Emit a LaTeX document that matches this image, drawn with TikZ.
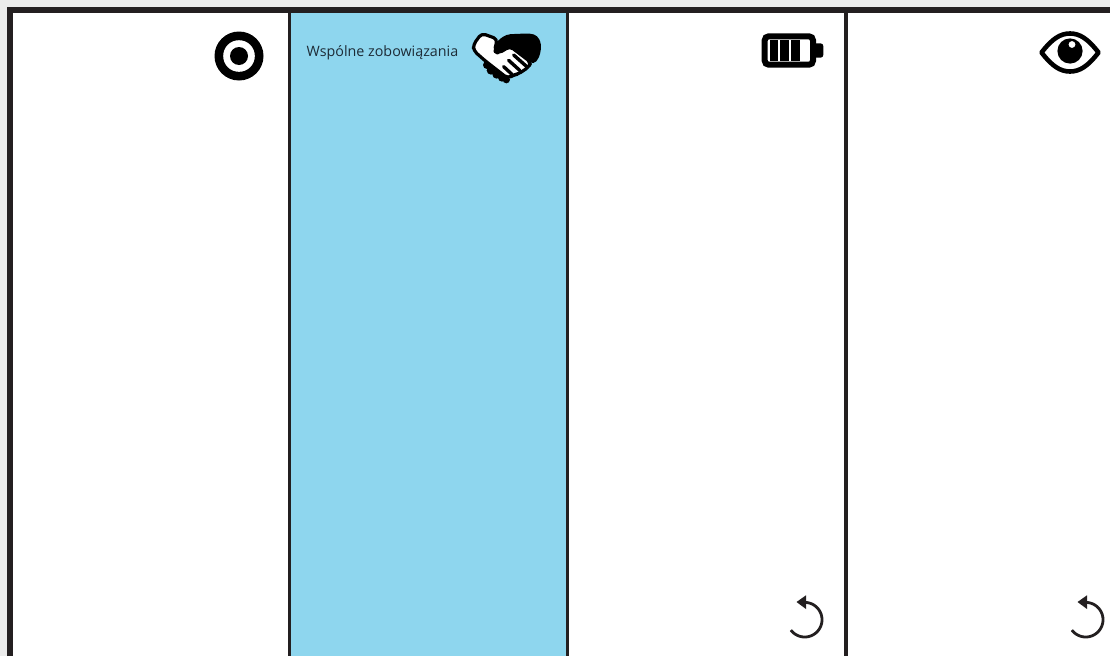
\documentclass[tikz,border=0pt]{standalone}
\usepackage{fontspec}
\setmainfont{Open Sans}
\definecolor{canvasgrey}{HTML}{EBEBEB}
\definecolor{framedark}{HTML}{231F20}
\definecolor{panelblue}{HTML}{8ED6EE}
\definecolor{labeldark}{HTML}{1D2B36}
\begin{document}
\begin{tikzpicture}[x=1pt, y=-1pt,
    frameline/.style={draw=framedark, line width=6pt},
    columnline/.style={draw=framedark, line width=3.2pt},
    icon/.style={fill=black, draw=none},
    iconcut/.style={fill=white, draw=none}]
  \useasboundingbox (0,0) rectangle (1110,656);
  \fill[canvasgrey] (0,0) rectangle (1110,656);
  \fill[white] (10,9.5) rectangle (1110,656);
  \fill[panelblue] (289.5,9.5) rectangle (567.5,656);
  \draw[frameline] (10,656) -- (10,9.5) -- (1110,9.5);
  \draw[columnline] (289.5,9.5) -- (289.5,656);
  \draw[columnline] (567.5,9.5) -- (567.5,656);
  \draw[columnline] (846,9.5) -- (846,656);
  \node[anchor=west, inner sep=0pt, text=labeldark, font=\fontsize{14.3}{16}\selectfont] (commitments) at (306.5,53) {Wspólne zobowiązania};
  % target
  \fill[icon] (239,56) circle (24.5);
  \fill[iconcut] (239,56) circle (15.8);
  \fill[icon] (239,56) circle (9);
  % battery
  \draw[black, line width=6pt, rounded corners=4pt, fill=white] (764.7,36.3) rectangle (813,64.7);
  \fill[icon] (816,43.3) -- (820.5,43.3) arc (-90:0:2.8) -- (823.3,54.9) arc (0:90:2.8) -- (816,57.7) -- cycle;
  \foreach \barx/\barw in {769.5/8.6, 780/9.2, 791.2/9} {
    \fill[icon] (\barx,40) rectangle ++(\barw,21);
  }
  % eye
  \draw[black, line width=4.6pt, line join=round, fill=white] (1041.5,52.5) .. controls (1052,39) and (1060,33.5) .. (1070,33.5) .. controls (1080,33.5) and (1088,39) .. (1098.5,52.5) .. controls (1088,66) and (1080,71.5) .. (1070,71.5) .. controls (1060,71.5) and (1052,66) .. (1041.5,52.5) -- cycle;
  \fill[icon] (1070,51) circle (12.6);
  \fill[iconcut] (1072,44.5) circle (3.4);
  % handshake
  \begin{scope}[shift={(465,20)}, x=0.3333pt, y=-0.3333pt]
    \fill[icon, rounded corners=4pt] (97,62) -- (125,43) -- (195,40) -- (218,47) -- (230,75) -- (223,113) -- (205,134) -- (135,79) -- (100,105) -- (82,96) -- cycle;
    \foreach \bumpx/\bumpy/\bumpr in {66/135/12, 78/151/13, 95/163/13, 111/173/12, 124/179/11} {
      \fill[icon] (\bumpx,\bumpy) circle (\bumpr);
    }
    \draw[black, line width=3.2pt, fill=white, rounded corners=4pt, line join=round] (50,40) -- (97,57) -- (88,93) -- (100,100) -- (135,79) -- (198,127) -- (191,141) -- (175,152) -- (160,162) -- (146,165) -- (128,175) -- (60,122) -- (26,92) -- (25,74) -- cycle;
    \draw[black, line width=3.4pt, line cap=round] (146,105) -- (182,137);
    \draw[black, line width=3.4pt, line cap=round] (131,121) -- (164,151);
    \draw[black, line width=3.4pt, line cap=round] (116,140) -- (142,164);
  \end{scope}
  % reload
  \foreach \dx in {0,281} {
    \begin{scope}[xshift=\dx pt]
      \draw[framedark, line width=2.8pt, domain=217:450, samples=60] plot ({804.7+17.3*cos(\x)},{619.7-17.3*sin(\x)});
      \fill[framedark] (796.5,602) -- (806,595.3) -- (806,609) -- cycle;
    \end{scope}
  }
\end{tikzpicture}
\end{document}
